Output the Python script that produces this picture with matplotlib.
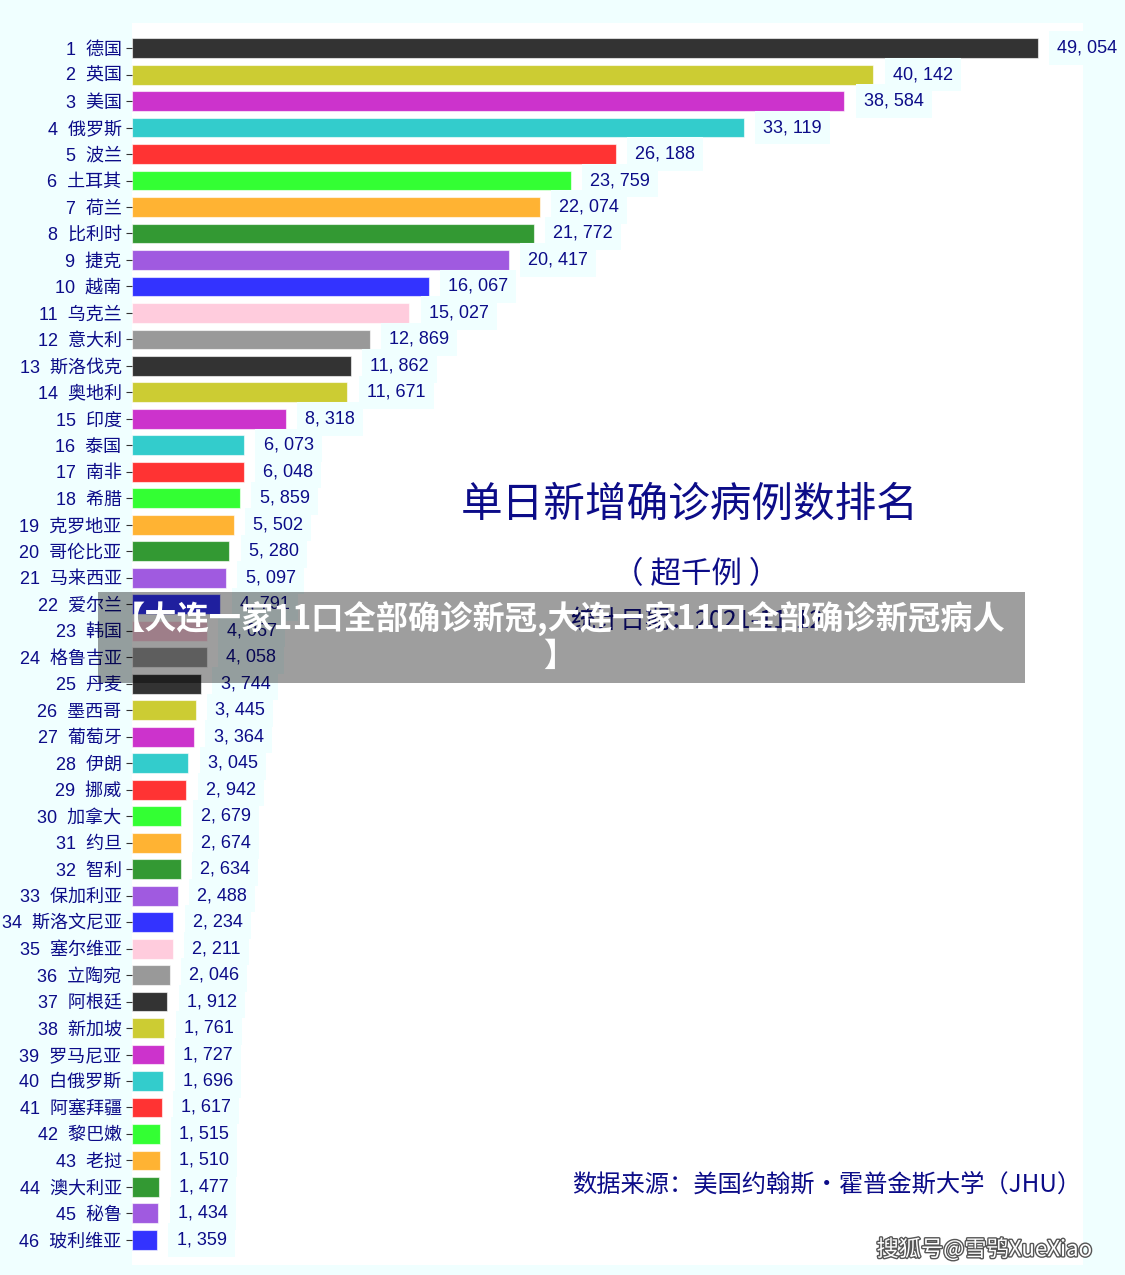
import matplotlib.pyplot as plt
import matplotlib.patheffects as pe

plt.rcParams["font.family"] = ["Noto Sans CJK SC", "DejaVu Sans"]
plt.rcParams["axes.unicode_minus"] = False

# 数据
countries = ["德国", "英国", "美国", "俄罗斯", "波兰", "土耳其", "荷兰", "比利时", "捷克", "越南",
             "乌克兰", "意大利", "斯洛伐克", "奥地利", "印度", "泰国", "南非", "希腊", "克罗地亚", "哥伦比亚",
             "马来西亚", "爱尔兰", "韩国", "格鲁吉亚", "丹麦", "墨西哥", "葡萄牙", "伊朗", "挪威", "加拿大",
             "约旦", "智利", "保加利亚", "斯洛文尼亚", "塞尔维亚", "立陶宛", "阿根廷", "新加坡", "罗马尼亚", "白俄罗斯",
             "阿塞拜疆", "黎巴嫩", "老挝", "澳大利亚", "秘鲁", "玻利维亚"]
cases = [49054, 40142, 38584, 33119, 26188, 23759, 22074, 21772, 20417, 16067,
         15027, 12869, 11862, 11671, 8318, 6073, 6048, 5859, 5502, 5280,
         5097, 4791, 4067, 4058, 3744, 3445, 3364, 3045, 2942, 2679,
         2674, 2634, 2488, 2234, 2211, 2046, 1912, 1761, 1727, 1696,
         1617, 1515, 1510, 1477, 1434, 1359]
palette = ["#333333", "#cccc33", "#cc33cc", "#33cccc", "#ff3333", "#33ff33",
           "#ffb333", "#339933", "#a05ae0", "#3333ff", "#ffccdd", "#999999"]

navy = "#0c0c88"
bg = "#f0ffff"
num_font = ["Liberation Sans", "Noto Sans CJK SC"]

fig = plt.figure(figsize=(11.25, 12.75), dpi=100, facecolor=bg)
ax = fig.add_axes([0.1173, 0.0078, 0.8454, 0.9742])
ax.set_facecolor("white")

y = list(range(len(countries)))
colors = [palette[i % len(palette)] for i in y]
ax.barh(y, cases, height=0.75, color=colors, edgecolor=(1, 1, 1, 0.6), linewidth=0.8)

for i, v in enumerate(cases):
    ax.annotate(f"{v:,}".replace(",", ", "), xy=(v, i), xytext=(14, 0),
                textcoords="offset points", va="center", ha="left",
                fontsize=13, color=navy, family=num_font,
                bbox=dict(boxstyle="square,pad=0.45", fc=bg, ec="none"))

ax.set_yticks(y)
ax.set_yticklabels([f"{i + 1}  {c}" for i, c in enumerate(countries)], fontsize=13,
                   color=navy, family=num_font)
ax.tick_params(axis="y", length=4, color="#333333")
ax.set_xticks([])
ax.set_xlim(0, max(cases) * 1.05)
ax.set_ylim(len(countries) - 0.05, -0.95)
for s in ax.spines.values():
    s.set_visible(False)

# 标题与说明
fig.text(0.613, 0.604, "单日新增确诊病例数排名", fontsize=30, color=navy, ha="center", va="center")
fig.text(0.619, 0.549, "（ 超千例 ）", fontsize=22, color=navy, ha="center", va="center")
fig.text(0.619, 0.513, "统计日期：2021-11-12", fontsize=18, color=navy, ha="center", va="center")
fig.text(0.735, 0.071, "数据来源：美国约翰斯·霍普金斯大学（JHU）", fontsize=17.5, color=navy,
         ha="center", va="center")

# 遮挡横幅
fig.patches.append(plt.Rectangle((0.087, 1 - 683 / 1275), (1025 - 98) / 1125, 91 / 1275,
                                 transform=fig.transFigure, facecolor="black", alpha=0.38,
                                 edgecolor="none", zorder=5))
fig.text(0.497, 0.5, "【大连一家11口全部确诊新冠,大连一家11口全部确诊新冠病人\n】",
         fontsize=23.2, fontweight="heavy", color="white", ha="center", va="center",
         multialignment="center", linespacing=1.1, zorder=6)

# 水印
fig.text(0.875, 0.02, "搜狐号@雪鸮XueXiao", fontsize=16, color="white", ha="center", va="center",
         path_effects=[pe.withStroke(linewidth=2, foreground="#555555")], zorder=6)

plt.savefig("out.png", dpi=100, facecolor=bg)
plt.close()
